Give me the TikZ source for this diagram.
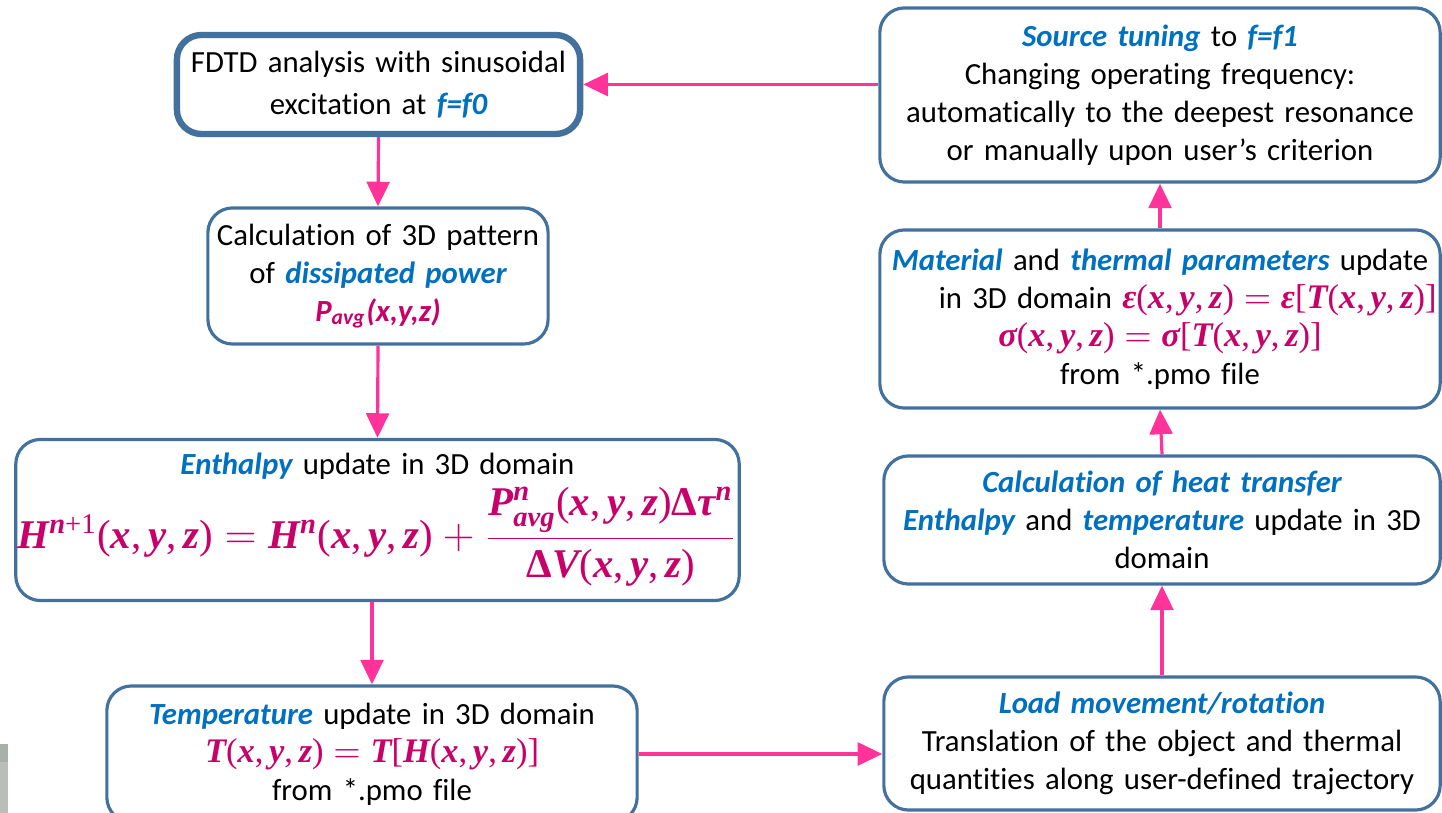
\documentclass[tikz,border=0pt]{standalone}
\usepackage{amsmath}
\usepackage{fontspec}
\setmainfont{Carlito}[Ligatures=NoCommon]
\newfontfamily\mfont{Liberation Serif}
\usetikzlibrary{arrows.meta,calc}
\definecolor{bord}{HTML}{41719C}
\definecolor{bl}{HTML}{0070C0}
\definecolor{mg}{HTML}{C8006A}
\definecolor{arrc}{HTML}{FF3399}
\definecolor{grayA}{HTML}{A9B0A9}
\definecolor{grayB}{HTML}{BABDBA}
\newcommand{\kw}[1]{{\color{bl}\bfseries\itshape #1}}
\newcommand{\mv}[1]{\text{\mfont\bfseries\itshape #1}}
\newcommand{\mr}[1]{\text{\mfont #1}}
\newcommand{\xyz}{\mr{(}\mv{x}\mr{,\,}\mv{y}\mr{,\,}\mv{z}\mr{)}}
\newcommand{\mth}[1]{\mbox{\color{mg}\fontsize{9.8}{10.8}\selectfont$#1$}}
\tikzset{
  box/.style={draw=bord, line width=0.9pt, rounded corners=7pt, fill=white,
    align=center, inner sep=0pt, font=\fontsize{8.75}{10.8}\selectfont},
  bw/.style={minimum width=#1, text width=#1},
  arr/.style={draw=arrc, line width=0.9pt, -{Triangle[length=7pt,width=6.5pt]}},
}
\begin{document}
\begin{tikzpicture}[x=0.01cm,y=-0.01cm]
\useasboundingbox (0,0) rectangle (1442,813);
\fill[grayB] (0,744) rectangle (8,813);
\fill[grayA] (0,744) rectangle (8,762);

\node[box, line width=1.8pt, bw=4.03cm, minimum height=0.99cm] (b1) at (378.5,84.5)
  {FDTD analysis with sinusoidal\\[1pt] excitation at \kw{f=f0}};
\node[box, bw=3.40cm, minimum height=1.36cm] (b2) at (378,276)
  {Calculation of 3D pattern\\ of \kw{dissipated power}\\ {\color{mg}\bfseries\itshape P\textsubscript{avg}(x,y,z)}};
\node[box, bw=7.23cm, minimum height=1.61cm] (b3) at (377.5,520)
  {\kw{Enthalpy} update in 3D domain\\[1pt]
   \mbox{\color{mg}\fontsize{11.6}{13}\selectfont$\mv{H}^{\mv{n}\mr{+1}}\xyz=\mv{H}^{\mv{n}}\xyz+\dfrac{\mv{P}^{\mv{n}}_{\mv{avg}}\xyz\mr{\bfseries Δ}\mv{τ}^{\mv{n}}}{\mr{\bfseries Δ}\mv{V}\xyz}$}};
\node[box, bw=5.30cm, minimum height=1.36cm] (b4) at (372,754)
  {\kw{Temperature} update in 3D domain\\ \mth{\mv{T}\xyz=\mv{T}\mr{[}\mv{H}\xyz\mr{]}}\\ from *.pmo file};
\node[box, bw=5.56cm, minimum height=1.33cm] (b5) at (1162,743.5)
  {\kw{Load movement/rotation}\\ Translation of the object and thermal\\ quantities along user-defined trajectory};
\node[box, bw=5.56cm, minimum height=1.28cm] (b6) at (1162,520)
  {\kw{Calculation of heat transfer}\\ \kw{Enthalpy} and \kw{temperature} update in 3D\\ domain};
\node[box, bw=5.60cm, minimum height=1.78cm] (b7) at (1160,319)
  {\kw{Material} and \kw{thermal parameters} update\\ \makebox[\linewidth][r]{in 3D domain \mth{\mv{ε}\xyz=\mv{ε}\mr{[}\mv{T}\xyz\mr{]}}\hspace*{1pt}}\\ \mth{\mv{σ}\xyz=\mv{σ}\mr{[}\mv{T}\xyz\mr{]}}\\ from *.pmo file};
\node[box, bw=5.60cm, minimum height=1.74cm] (b8) at (1160,95)
  {\kw{Source tuning} to \kw{f=f1}\\ Changing operating frequency:\\ automatically to the deepest resonance\\ or manually upon user's criterion};

\draw[arr] (b8.west |- b1.east) -- (b1.east);
\draw[arr] (b1.south) -- (b2.north);
\draw[arr] (b2.south) -- (b3.north);
\draw[arr] (b3.south -| b4.north) -- (b4.north);
\draw[arr] (b4.east) -- (b4.east -| b5.west);
\draw[arr] (b5.north) -- (b6.south);
\draw[arr] (b6.north) -- (b7.south);
\draw[arr] (b7.north) -- (b8.south);
\end{tikzpicture}
\end{document}
